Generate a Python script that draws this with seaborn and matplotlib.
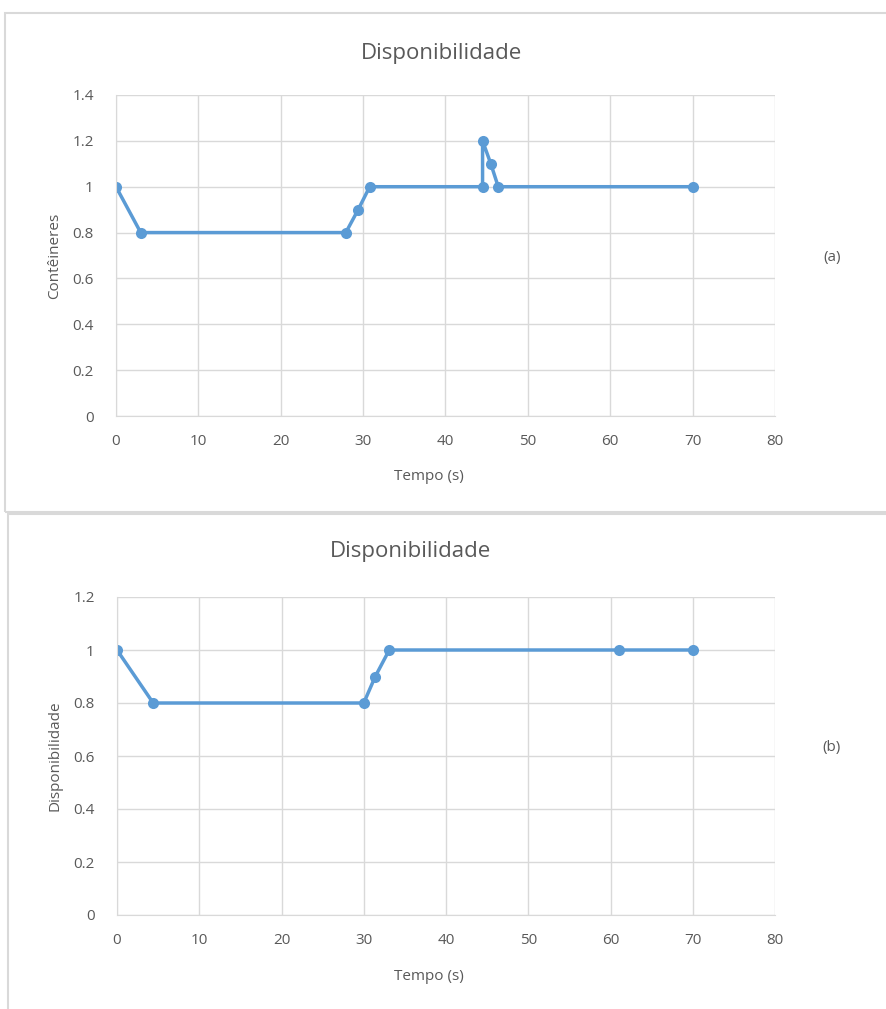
import pandas as pd
import matplotlib.pyplot as plt
import seaborn as sns
from matplotlib.patches import Rectangle

# data
tempo_a = [0, 3, 27.9, 29.4, 30.8, 44.5, 44.5, 45.5, 46.4, 70]
cont_a = [1, 0.8, 0.8, 0.9, 1, 1, 1.2, 1.1, 1, 1]

tempo_b = [0, 4.4, 30, 31.4, 33.1, 61, 70]
disp_b = [1, 0.8, 0.8, 0.9, 1, 1, 1]

x_ticks = [0, 10, 20, 30, 40, 50, 60, 70, 80]
y_ticks_a = [0, 0.2, 0.4, 0.6, 0.8, 1, 1.2, 1.4]
y_ticks_b = [0, 0.2, 0.4, 0.6, 0.8, 1, 1.2]

sns.set_style('white')
plt.rcParams['font.family'] = ['Open Sans', 'DejaVu Sans']

blue = '#5B9BD5'
grid_c = '#D9D9D9'
text_c = '#595959'

W, H = 887, 1009
fig = plt.figure(figsize=(W / 100, H / 100), dpi=100)


def px_axes(left, top, right, bottom):
    return fig.add_axes([left / W, 1 - bottom / H, (right - left) / W, (bottom - top) / H])


def style(ax, yt, title, ylabel, title_y, xlabel_y, tag, tag_y, cx):
    ax.set_xlim(0, 80)
    ax.set_ylim(yt[0], yt[-1])
    ax.set_xticks(x_ticks)
    ax.set_yticks(yt)
    ax.set_xticklabels([f'{v:g}' for v in x_ticks])
    ax.set_yticklabels([f'{v:g}' for v in yt])
    ax.grid(True, color=grid_c, linewidth=1)
    ax.set_axisbelow(True)
    for s in ['top', 'right']:
        ax.spines[s].set_visible(False)
    for s in ['left', 'bottom']:
        ax.spines[s].set_color(grid_c)
    ax.tick_params(axis='x', length=0, labelsize=11, colors=text_c, pad=13)
    ax.tick_params(axis='y', length=0, labelsize=11, colors=text_c, pad=16)
    ax.set_xlabel('')
    ax.set_ylabel('')
    pos = ax.get_position()
    fig.text(cx / W, 1 - title_y / H, title, ha='center', va='center', fontsize=16, color=text_c)
    fig.text(429 / W, 1 - xlabel_y / H, 'Tempo (s)', ha='center', va='center', fontsize=11, color=text_c)
    fig.text(55 / W, pos.y0 + pos.height / 2, ylabel, ha='center', va='center',
             rotation=90, fontsize=11, color=text_c)
    fig.text(832 / W, 1 - tag_y / H, tag, ha='center', va='center', fontsize=11, color=text_c)


# panel borders
fig.add_artist(Rectangle((5 / W, 1 - 512 / H), 900 / W, 499 / H, transform=fig.transFigure,
                         fill=False, edgecolor=grid_c, linewidth=1.5))
fig.add_artist(Rectangle((8 / W, -0.01), 900 / W, 1 - 514 / H + 0.01, transform=fig.transFigure,
                         fill=False, edgecolor=grid_c, linewidth=1.5))

# chart (a)
ax1 = px_axes(116, 95, 775, 416)
df_a = pd.DataFrame({'Tempo': tempo_a, 'Conteineres': cont_a})
sns.lineplot(data=df_a, x='Tempo', y='Conteineres', sort=False, estimator=None, ax=ax1,
             color=blue, linewidth=2.5, marker='o', markersize=8, markeredgewidth=0, markerfacecolor=blue)
style(ax1, y_ticks_a, 'Disponibilidade', 'Contêineres', 53, 477, '(a)', 258, 442)

# chart (b)
ax2 = px_axes(117, 597, 775, 915)
df_b = pd.DataFrame({'Tempo': tempo_b, 'Disponibilidade': disp_b})
sns.lineplot(data=df_b, x='Tempo', y='Disponibilidade', sort=False, estimator=None, ax=ax2,
             color=blue, linewidth=2.5, marker='o', markersize=8, markeredgewidth=0, markerfacecolor=blue)
style(ax2, y_ticks_b, 'Disponibilidade', 'Disponibilidade', 551, 977, '(b)', 748, 410)

fig.savefig('out.png', dpi=100)
